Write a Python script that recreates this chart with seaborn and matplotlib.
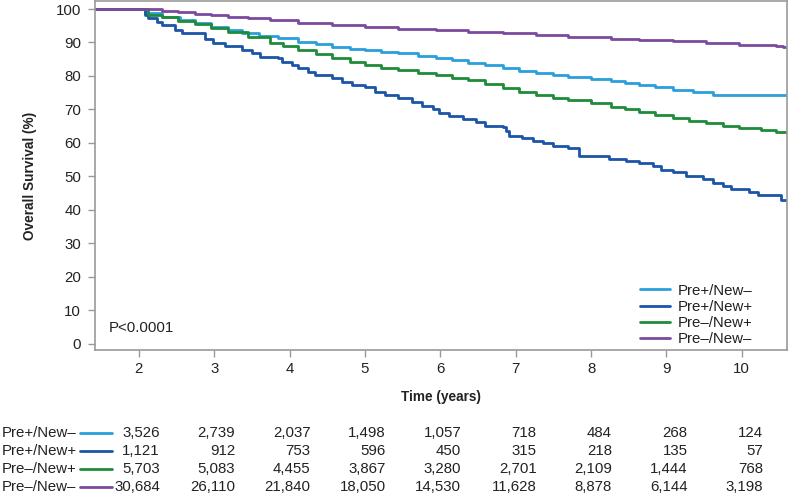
import pandas as pd
import matplotlib.pyplot as plt
import seaborn as sns
from matplotlib.lines import Line2D
from matplotlib.transforms import blended_transform_factory

# Groups and colours
groups = ["Pre+/New–", "Pre+/New+", "Pre–/New+", "Pre–/New–"]
colors = ["#2B9FDC", "#1C55A8", "#1E8C3A", "#7B4A9E"]

# Kaplan-Meier step points (years, % surviving)
t_pos_neg = [1.42, 1.95, 2.08, 2.31, 2.55, 2.74, 2.96, 3.18, 3.37, 3.60, 3.85,
             4.11, 4.35, 4.57, 4.80, 5.00, 5.22, 5.44, 5.70, 5.94, 6.15, 6.37,
             6.60, 6.83, 7.05, 7.27, 7.50, 7.70, 8.00, 8.26, 8.45, 8.64, 8.85,
             9.09, 9.35, 9.62, 10.60]
s_pos_neg = [100.0, 100.0, 98.9, 97.7, 96.7, 95.7, 94.7, 93.7, 92.7, 91.8, 91.2,
             90.2, 89.4, 88.7, 88.2, 87.8, 87.3, 86.8, 86.0, 85.3, 84.7, 84.0,
             83.2, 82.3, 81.5, 80.8, 80.2, 79.6, 79.0, 78.6, 77.9, 77.3, 76.6,
             75.8, 75.3, 74.2, 74.2]

t_pos_pos = [1.42, 2.05, 2.08, 2.12, 2.24, 2.31, 2.48, 2.57, 2.88, 2.98, 3.14,
             3.37, 3.50, 3.61, 3.85, 3.90, 4.03, 4.11, 4.25, 4.34, 4.57, 4.70,
             4.83, 5.00, 5.14, 5.27, 5.44, 5.63, 5.76, 5.90, 5.98, 6.11, 6.30,
             6.47, 6.60, 6.83, 6.87, 6.91, 7.09, 7.23, 7.36, 7.49, 7.70, 7.84,
             8.24, 8.46, 8.64, 8.82, 8.93, 9.09, 9.26, 9.49, 9.62, 9.75, 9.86,
             10.10, 10.22, 10.52, 10.60]
s_pos_pos = [100.0, 100.0, 98.2, 97.2, 96.2, 95.2, 93.7, 92.7, 90.9, 89.9, 88.8,
             87.8, 87.0, 85.8, 85.3, 84.3, 83.3, 82.3, 81.3, 80.3, 79.3, 78.3,
             77.3, 76.6, 75.3, 74.3, 73.3, 72.3, 71.0, 70.1, 68.9, 67.9, 67.1,
             66.1, 65.1, 64.7, 63.4, 62.1, 61.4, 60.7, 59.9, 59.1, 58.4, 56.1,
             55.1, 54.7, 53.9, 53.1, 51.9, 51.4, 50.1, 49.2, 48.0, 47.2, 46.2,
             45.2, 44.5, 43.0, 43.0]

t_neg_pos = [1.42, 1.98, 2.12, 2.31, 2.52, 2.74, 2.96, 3.18, 3.45, 3.74, 3.92,
             4.11, 4.35, 4.57, 4.80, 5.00, 5.22, 5.44, 5.70, 5.94, 6.15, 6.37,
             6.60, 6.83, 7.05, 7.27, 7.50, 7.70, 8.00, 8.26, 8.45, 8.64, 8.85,
             9.09, 9.30, 9.53, 9.75, 9.97, 10.25, 10.45, 10.60]
s_neg_pos = [100.0, 100.0, 98.2, 97.5, 96.5, 95.5, 94.3, 93.2, 91.6, 89.8, 88.8,
             87.8, 86.5, 85.3, 84.3, 83.3, 82.5, 81.8, 80.8, 80.3, 79.5, 78.8,
             77.5, 76.3, 75.3, 74.3, 73.5, 72.8, 71.8, 70.8, 70.0, 69.3, 68.3,
             67.4, 66.6, 65.9, 65.1, 64.4, 63.9, 63.3, 62.9]

t_neg_neg = [1.42, 2.05, 2.15, 2.31, 2.52, 2.74, 2.96, 3.18, 3.45, 3.74, 4.11,
             4.57, 5.00, 5.44, 5.94, 6.37, 6.83, 7.27, 7.70, 8.26, 8.64, 9.09,
             9.53, 9.97, 10.45, 10.55, 10.60]
s_neg_neg = [100.0, 100.0, 99.9, 99.5, 99.0, 98.5, 98.1, 97.7, 97.2, 96.7, 95.9,
             95.2, 94.7, 93.9, 93.6, 93.2, 92.7, 92.2, 91.7, 91.0, 90.7, 90.5,
             89.9, 89.3, 88.9, 88.6, 88.6]

# Number at risk
risk_years = [2, 3, 4, 5, 6, 7, 8, 9, 10]
risk_pos_neg = ["3,526", "2,739", "2,037", "1,498", "1,057", "718", "484", "268", "124"]
risk_pos_pos = ["1,121", "912", "753", "596", "450", "315", "218", "135", "57"]
risk_neg_pos = ["5,703", "5,083", "4,455", "3,867", "3,280", "2,701", "2,109", "1,444", "768"]
risk_neg_neg = ["30,684", "26,110", "21,840", "18,050", "14,530", "11,628", "8,878", "6,144", "3,198"]

times = [t_pos_neg, t_pos_pos, t_neg_pos, t_neg_neg]
survs = [s_pos_neg, s_pos_pos, s_neg_pos, s_neg_neg]
risks = [risk_pos_neg, risk_pos_pos, risk_neg_pos, risk_neg_neg]

df = pd.concat([
    pd.DataFrame({"time": t, "survival": s, "group": g})
    for g, t, s in zip(groups, times, survs)
], ignore_index=True)

sns.set_theme(style="white")
plt.rcParams["font.family"] = ["Liberation Sans", "DejaVu Sans"]

text_color = "#222222"
spine_color = "#9a9a9a"
fs = 10.8
fs_bold = 9.8

fig = plt.figure(figsize=(7.88, 4.96), dpi=100)
ax = fig.add_axes([0.1206, 0.2944, 0.8781, 0.7036])

sns.lineplot(
    data=df,
    x="time",
    y="survival",
    hue="group",
    hue_order=groups,
    palette=dict(zip(groups, colors)),
    estimator=None,
    drawstyle="steps-post",
    linewidth=2,
    ax=ax
)

ax.set_xlim(1.42, 10.6)
ax.set_ylim(-1.9, 102.4)
ax.set_xticks(risk_years)
ax.set_yticks(range(0, 101, 10))

for side in ["left", "bottom", "top", "right"]:
    ax.spines[side].set_color(spine_color)
    ax.spines[side].set_linewidth(1.2)

ax.tick_params(
    axis="both",
    direction="out",
    length=5,
    width=1,
    color=spine_color,
    labelcolor=text_color,
    labelsize=fs,
    pad=4
)
ax.tick_params(axis="y", pad=5)
ax.tick_params(left=True, bottom=True)

ax.set_xlabel("Time (years)", fontsize=fs_bold, fontweight="bold", color=text_color)
ax.set_ylabel("Overall Survival (%)", fontsize=fs_bold, fontweight="bold", color=text_color)
ax.xaxis.set_label_coords(0.5, -0.115)
ax.yaxis.set_label_coords(-0.084, 0.5)

ax.text(0.02, 0.063, "P<0.0001", transform=ax.transAxes,
        fontsize=fs, color=text_color, va="center", ha="left")

sns.move_legend(
    ax,
    "lower left",
    bbox_to_anchor=(0.7876, 0.010),
    frameon=False,
    title=None,
    fontsize=fs,
    handlelength=2.0,
    handletextpad=0.53,
    labelspacing=0.15,
    borderpad=0,
    borderaxespad=0
)
for txt in ax.get_legend().get_texts():
    txt.set_color(text_color)

# Number-at-risk table under the axis
row_y = [433, 451, 469, 487]
trans = blended_transform_factory(ax.transData, fig.transFigure)
for g, c, r, py in zip(groups, colors, risks, row_y):
    yf = 1 - py / 496
    fig.text(2 / 788, yf, g, fontsize=fs, color=text_color, ha="left", va="center")
    fig.add_artist(Line2D([80 / 788, 112 / 788], [yf, yf],
                          transform=fig.transFigure, color=c, linewidth=2))
    for yr, n in zip(risk_years, r):
        ax.text(yr + 0.28, yf, n, transform=trans, fontsize=fs,
                color=text_color, ha="right", va="center", clip_on=False)

fig.savefig("out.png", dpi=100)
